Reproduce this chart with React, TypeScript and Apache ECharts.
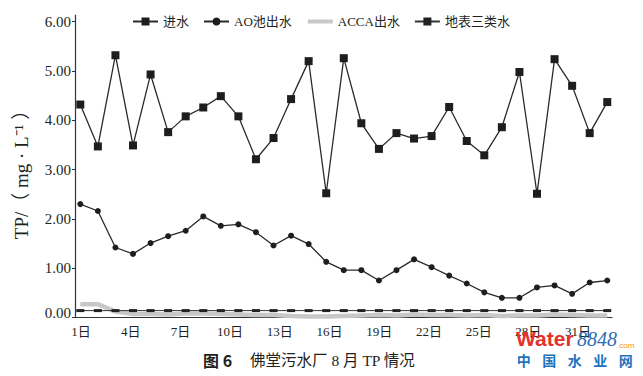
import React, { useEffect, useRef } from 'react';
import * as echarts from 'echarts';

const days = [1, 2, 3, 4, 5, 6, 7, 8, 9, 10, 11, 12, 13, 14, 15, 16, 17, 18, 19, 20, 21, 22, 23, 24, 25, 26, 27, 28, 29, 30, 31];
const inflow = [4.32, 3.47, 5.32, 3.49, 4.93, 3.76, 4.08, 4.26, 4.49, 4.08, 3.21, 3.64, 4.43, 5.2, 2.52, 5.26, 3.94, 3.42, 3.74, 3.63, 3.68, 4.27, 3.58, 3.29, 3.86, 4.98, 2.51, 5.24, 4.7, 3.74, 4.37];
const aoOut = [2.3, 2.16, 1.42, 1.29, 1.51, 1.65, 1.76, 2.05, 1.86, 1.89, 1.73, 1.46, 1.66, 1.49, 1.13, 0.96, 0.96, 0.75, 0.96, 1.18, 1.02, 0.85, 0.69, 0.51, 0.4, 0.4, 0.61, 0.65, 0.48, 0.71, 0.75];
const accaOut = [0.27, 0.27, 0.12, 0.07, 0.07, 0.06, 0.08, 0.08, 0.07, 0.06, 0.05, 0.05, 0.03, 0.02, 0.02, 0.03, 0.04, 0.05, 0.04, 0.06, 0.05, 0.05, 0.04, 0.05, 0.03, 0.04, 0.04, 0.06, 0.05, 0.04, 0.04];
const surfaceIII = [0.14, 0.14, 0.14, 0.14, 0.14, 0.14, 0.14, 0.14, 0.14, 0.14, 0.14, 0.14, 0.14, 0.14, 0.14, 0.14, 0.14, 0.14, 0.14, 0.14, 0.14, 0.14, 0.14, 0.14, 0.14, 0.14, 0.14, 0.14, 0.14, 0.14, 0.14];
const seriesNames = ['进水', 'AO池出水', 'ACCA出水', '地表三类水'];
const xLabelDays = [1, 4, 7, 10, 13, 16, 19, 22, 25, 28, 31];
const yTickValues = [0, 1, 2, 3, 4, 5, 6];
const yAxisName = 'TP/（ mg · L⁻¹ ）';
const captionHead = '图 6';
const captionBody = '佛堂污水厂 8 月 TP 情况';
const logoChars = ['中', '国', '水', '业', '网'];

const serif = '"Liberation Serif", "Noto Sans CJK SC", serif';
const ink = '#231f20';

export default function App() {
  const ref = useRef<HTMLDivElement>(null);
  useEffect(() => {
    if (!ref.current) return;
    const chart = echarts.init(ref.current, null, { renderer: 'svg' });
    const pairs = (arr: number[]) => days.map((d, i) => [d, arr[i]]);
    const option: any = {
      animation: false,
      backgroundColor: '#ffffff',
      grid: { left: 75, right: 31, top: 15, bottom: 58.5, containLabel: false },
      legend: {
        left: 127,
        top: 10,
        itemWidth: 25,
        itemHeight: 10,
        itemGap: 14,
        data: seriesNames.map((n, i) =>
          i === 2 ? { name: n, itemStyle: { opacity: 0 }, lineStyle: { width: 4, color: '#c8c8c8' } } : { name: n }
        ),
        textStyle: { fontSize: 13, fontFamily: serif, color: ink },
      },
      xAxis: [
        { type: 'value', min: 0.698, max: 31.27, show: false, position: 'bottom' },
        {
          type: 'value',
          min: 0.638,
          max: 33.05,
          position: 'bottom',
          axisLine: { show: true, onZero: false, lineStyle: { color: '#333', width: 1.2 } },
          axisTick: { show: false },
          splitLine: { show: false },
          axisLabel: {
            customValues: xLabelDays,
            formatter: (v: number) => v + '日',
            margin: 7,
            fontSize: 13,
            fontFamily: serif,
            color: ink,
          },
        },
      ],
      yAxis: {
        type: 'value',
        min: 0,
        max: 6.136,
        position: 'left',
        axisLine: { show: true, onZero: false, lineStyle: { color: '#333', width: 1.2 } },
        axisTick: { show: true, length: 3, customValues: yTickValues, lineStyle: { color: '#333' } },
        splitLine: { show: false },
        axisLabel: {
          customValues: yTickValues,
          formatter: (v: number) => (v === 0 ? '{z|0.00}' : v.toFixed(2)),
          margin: 4,
          fontSize: 15,
          fontFamily: serif,
          color: ink,
          rich: { z: { fontSize: 15, fontFamily: serif, color: ink, padding: [0, 0, 10, 0] } },
        },
      },
      series: [
        {
          name: seriesNames[0], type: 'line', data: pairs(inflow), symbol: 'rect', symbolSize: 8,
          lineStyle: { color: '#2a2a2a', width: 1.3 }, itemStyle: { color: '#1e1e1e' },
        },
        {
          name: seriesNames[1], type: 'line', data: pairs(aoOut), symbol: 'circle', symbolSize: 6,
          lineStyle: { color: '#2a2a2a', width: 1.3 }, itemStyle: { color: '#1e1e1e' },
        },
        {
          name: seriesNames[2], type: 'line', data: pairs(accaOut), symbol: 'none',
          lineStyle: { color: '#c8c8c8', width: 4.5 }, itemStyle: { color: '#c8c8c8' },
        },
        {
          name: seriesNames[3], type: 'line', data: pairs(surfaceIII), symbol: 'rect', symbolSize: [8, 3],
          lineStyle: { color: '#333', width: 1 }, itemStyle: { color: '#222' },
        },
      ],
      graphic: [
        {
          type: 'text', x: 21.7, y: 170, rotation: Math.PI / 2, z: 10,
          style: { text: yAxisName, fontSize: 19, fontFamily: serif, fill: ink, align: 'center', verticalAlign: 'middle' },
        },
        {
          type: 'text', x: 203, y: 360, z: 10,
          style: { text: captionHead, fontSize: 16, fontWeight: 'bold', fontFamily: '"Noto Sans CJK SC", sans-serif', fill: ink, align: 'left', verticalAlign: 'middle' },
        },
        {
          type: 'text', x: 250, y: 360, z: 10,
          style: { text: captionBody, fontSize: 15.5, fontFamily: serif, fill: ink, align: 'left', verticalAlign: 'middle' },
        },
        {
          type: 'text', x: 516, y: 338, z: 20,
          style: { text: 'Water', fontSize: 21, fontWeight: 'bold', fontFamily: '"Liberation Sans", sans-serif', fill: '#e4312b', align: 'left', verticalAlign: 'middle' },
        },
        {
          type: 'text', x: 577, y: 339, z: 20,
          style: { text: '8848', fontSize: 20, fontStyle: 'italic', fontFamily: serif, fill: '#2f6db4', align: 'left', verticalAlign: 'middle' },
        },
        {
          type: 'text', x: 617, y: 345, z: 20,
          style: { text: '.com', fontSize: 8, fontFamily: '"Liberation Sans", sans-serif', fill: '#f39800', align: 'left', verticalAlign: 'middle' },
        },
        ...logoChars.map((c, i) => ({
          type: 'text', x: 516.7 + i * 25.5, y: 360, z: 20,
          style: { text: c, fontSize: 14, fontWeight: 'bold', fontFamily: '"Noto Sans CJK SC", sans-serif', fill: '#1e73be', align: 'left', verticalAlign: 'middle' },
        })),
      ],
    };
    chart.setOption(option);
    return () => chart.dispose();
  }, []);
  return (
    <div
      ref={ref}
      style={{ position: 'fixed', left: 0, top: 0, width: 643, height: 376, background: '#fff' }}
    />
  );
}
